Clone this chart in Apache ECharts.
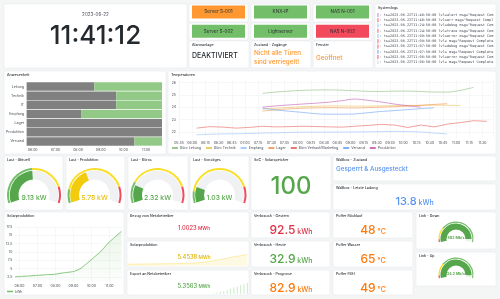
<!DOCTYPE html>
<html>
<head>
<meta charset="utf-8">
<title>Dashboard</title>
<script src="https://cdn.jsdelivr.net/npm/echarts@6/dist/echarts.min.js"></script>
<style>
  html, body { margin: 0; padding: 0; background: #f4f5f5; }
  #dash { width: 500px; height: 299px; }
</style>
</head>
<body>
<div id="dash"></div>
<script>
// ---- Werte ----
const clockDate = '2023-06-22';
const clockTime = '11:41:12';

const statusNames = ['Server S-001', 'KNX-IP', 'NAS N-001', 'Server S-002', 'Lightserver', 'NAS N-002'];
const statusStates = ['warn', 'ok', 'ok', 'ok', 'ok', 'err'];

const alarmTitles = ['Alarmanlage', 'Zustand - Zugänge', 'Fenster'];
const alarmTexts = ['DEAKTIVIERT', 'Nicht alle Türen\nsind verriegelt!', 'Geöffnet'];

const logTimes = ['11:40:50', '11:40:50', '11:24:50', '11:24:50', '11:09:50', '11:09:50', '11:07:50', '11:07:50', '11:06:50', '11:06:50'];
const logLevels = ['alert', 'err', 'debug', 'trace', 'error', '', 'debug', '', 'error', ''];
const logColors = ['#b877d9', '#f2495c', '#8ab8ff', '#f2495c', '#8ab8ff', '#f2495c', '#f2495c', '#5794f2', '#f2495c', '#ccccdc'];

// Anwesenheit (Minuten seit 0:00)
const presenceRows = ['Leitung', 'Technik', 'IT', 'Empfang', 'Lager', 'Produktion', 'Versand'];
const presenceStart = 344;
const presenceEnd = 702;
const presenceOnFrom = [523, 581, 581, 488, null, null, 629];

// Temperaturen
const tempNames = ['Büro Leitung', 'Büro Technik', 'Empfang', 'Lager', 'Büro Verkauf/Marketing', 'Versand', 'Produktion'];
const tempColors = ['#7eb26d', '#eab839', '#8ab8ff', '#ef843c', '#e24d42', '#5794f2', '#ba43a9'];
const tempTimes = [365, 380, 395, 410, 425, 440, 455, 470, 485, 500, 515, 530, 545, 560, 575, 590, 605, 620, 635, 650, 665, 680, 695];
const tempLeitung = [null, null, null, null, null, 25.12, 25.22, 25.30, 25.36, 25.39, 25.40, 25.38, 25.33, 25.28, 25.27, 25.30, 25.30, 25.27, 25.22, 25.22, 25.36, 25.60, null];
const tempTechnik = [null, null, null, null, null, 23.85, 23.92, 23.98, 24.03, 24.07, 24.10, 24.10, 24.08, 24.08, 24.10, 24.12, 24.14, 24.15, 24.16, 24.15, 24.12, null, null];
const tempEmpfang = [21.76, 21.80, 21.83, 21.85, 21.87, 21.90, 21.92, 21.95, 21.97, 21.97, 21.98, 21.98, 21.99, 22.00, 22.02, 22.03, 22.02, 21.98, 21.90, 21.83, null, null, null];
const tempLager = [null, null, null, null, null, 23.69, 23.78, 23.86, 23.91, 23.94, 23.96, 23.95, 23.93, 23.96, 24.00, 24.04, 24.08, 24.15, 24.22, 24.28, null, null, null];
const tempVerkauf = [22.30, 22.42, 22.38, 22.30, 22.36, 22.45, 22.40, 22.42, 22.45, 22.43, 22.40, 22.38, 22.45, 22.52, 22.60, 22.55, 22.35, 22.55, 22.40, 22.62, 22.75, 22.90, 22.85];
const tempVersand = [null, null, null, null, null, 23.91, 23.78, 23.67, 23.58, 23.47, 23.43, 23.43, 23.45, 23.55, 23.65, 23.72, 23.80, 23.88, 23.95, null, null, null, null];
const tempProduktion = [null, null, null, null, null, 24.00, 24.10, 24.18, 24.25, 24.32, 24.40, 24.52, 24.66, 24.55, 24.42, 24.25, 24.12, 24.00, null, null, null, null, null];
const tempSeries = [tempLeitung, tempTechnik, tempEmpfang, tempLager, tempVerkauf, tempVersand, tempProduktion];

// Solarproduktion kWh
const solarTimes = [345, 360, 375, 390, 405, 420, 435, 450, 465, 480, 495, 510, 525, 540, 555, 565, 580, 595, 610, 625, 640, 655, 670, 685, 700];
const solarValues = [2.5, 2.6, 2.7, 2.75, 2.85, 2.95, 3.05, 3.15, 3.2, 3.3, 3.55, 3.75, 3.9, 4.1, 4.6, 5.1, 6.2, 7.3, 8.5, 9.6, 11.0, 12.6, 13.8, 15.0, 16.2];

// Last
const loadNames = ['Last - Aktuell', 'Last - Produktion', 'Last - Büros', 'Last - Sonstiges'];
const loadValues = [9.13, 5.78, 2.32, 1.03];
const loadMax = [19, 14.4, 12, 6];
const loadGreenTo = [0.48, 0.14, 0.22, 0.12];

const socValue = 100;
const wallboxState = 'Gesperrt & Ausgesteckt';
const wallboxLast = 13.8;

const energyNames = ['Bezug vom Netzbetreiber', 'Solarproduktion', 'Export an Netzbetreiber'];
const energyValues = [1.0023, 5.4538, 5.3563];
const exportTimes = [600, 610, 620, 630, 640, 650, 660, 670, 680, 690, 700];
const exportSpark = [0.5, 1, 1.6, 2.2, 3, 3.8, 4.6, 5.4, 6.3, 7.2, 8];

const verbrauchNames = ['Verbrauch - Gestern', 'Verbrauch - Heute', 'Verbrauch - Prognose'];
const verbrauchValues = [92.5, 32.9, 82.9];

const pufferNames = ['Puffer Rücklauf', 'Puffer Wasser', 'Puffer FBH'];
const pufferValues = [48, 65, 49];

const linkNames = ['Link - Down', 'Link - Up'];
const linkValues = [502, 24.2];
const linkMax = [530, 25.5];

// ---- Darstellung ----
const FONT = 'Inter, "Noto Sans", sans-serif';
const TXT = '#24292e';
const SUB = '#464c54';
const GREEN = '#56a64b', YELLOW = '#e0b400', RED = '#e02f44', ORANGE = '#ff780a', BLUE = '#5794f2';
const GRIDC = '#eceef0';

function hm(m) {
    const h = Math.floor(m / 60), mm = m % 60;
    return (h < 10 ? '0' : '') + h + ':' + (mm < 10 ? '0' : '') + mm;
}

const graphics = [];
function panel(x, y, w, h, title) {
    graphics.push({ type: 'rect', silent: true, shape: { x: x, y: y, width: w, height: h, r: 1.5 },
        style: { fill: '#ffffff', stroke: '#e3e5e8', lineWidth: 0.5 } });
    if (title) txt(x + 3, y + 3.8, title, 3.6, TXT, { fontWeight: 500 });
}
function txt(x, y, text, size, color, extra) {
    graphics.push({ type: 'text', silent: true, x: x, y: y,
        style: Object.assign({ text: text, fontSize: size, fontFamily: FONT, fill: color, align: 'left', verticalAlign: 'middle' }, extra || {}) });
}
function statValue(cx, cy, value, unit, color, size, unitSize) {
    graphics.push({ type: 'text', silent: true, x: cx, y: cy,
        style: { text: '{v|' + value + '}{u|' + unit + '}', align: 'center', verticalAlign: 'middle', fill: color, fontFamily: FONT,
            rich: { v: { fontSize: size, fontWeight: 500, fill: color, fontFamily: FONT, verticalAlign: 'bottom' },
                    u: { fontSize: unitSize, fontWeight: 500, fill: color, fontFamily: FONT, verticalAlign: 'bottom', padding: [0, 0, size * 0.08, 0] } } } });
}

// Uhr
panel(4, 4, 183, 64, null);
txt(95.5, 15, clockDate, 4.6, SUB, { align: 'center' });
txt(95.5, 36, clockTime, 26, TXT, { align: 'center', fontWeight: 500 });

// Status
const stateColor = { ok: '#73bf69', warn: '#ff9830', err: '#f2495c' };
statusNames.forEach(function (name, i) {
    const col = i % 3, row = Math.floor(i / 3);
    const px = 189 + col * 62, py = row === 0 ? 4 : 23, ph = row === 0 ? 18 : 17;
    panel(px, py, 59, ph, null);
    graphics.push({ type: 'rect', silent: true, shape: { x: px + 3, y: py + (row === 0 ? 1.5 : 1.8), width: 53, height: 13 },
        style: { fill: stateColor[statusStates[i]] } });
    txt(px + 29.5, py + (row === 0 ? 8 : 8.3), name, 4.6, '#2b2f33', { align: 'center' });
});

alarmTitles.forEach(function (t, i) {
    const px = 189 + i * 62;
    panel(px, 41, 60, 27, t);
    if (i === 0) txt(px + 3, 55.5, alarmTexts[i], 7, TXT, { fontWeight: 500 });
    else txt(px + 3, 57.8, alarmTexts[i], 6.3, '#ff9830', { fontWeight: 500, lineHeight: 8.5 });
});

// Systemlogs
panel(375, 4, 121, 64, 'Systemlogs');
logTimes.forEach(function (t, i) {
    const y = 15 + i * 5.25;
    graphics.push({ type: 'rect', silent: true, shape: { x: 377.5, y: y - 2, width: 0.9, height: 4 }, style: { fill: logColors[i] } });
    txt(379.5, y, '› ts=2023-06-22T' + t + ':00 lvl=' + logLevels[i] + ' msg="Request Completed" logger=context', 3.5, SUB,
        { fontFamily: '"DejaVu Sans Mono", monospace', width: 115, overflow: 'truncate', ellipsis: '' });
});

panel(4, 71, 162, 83, 'Anwesenheit');
panel(168, 71, 328, 83, 'Temperaturen');

// Gauges Last
const gaugeCenters = [34, 94.5, 157.5, 219.5];
const gaugePanelX = [4, 66, 128, 190];
loadNames.forEach(function (n, i) {
    panel(gaugePanelX[i], 156, i === 2 ? 60 : 59, 54, n);
});
panel(251, 156, 80, 54, 'SoC - Solarspeicher');
txt(291, 187, String(socValue), 24, GREEN, { align: 'center', fontWeight: 500 });
panel(333, 156, 163, 25, 'Wallbox - Zustand');
txt(336, 169.5, wallboxState, 6.3, BLUE, { fontWeight: 500 });
panel(333, 184, 163, 26, 'Wallbox - Letzte Ladung');
statValue(414.5, 202, wallboxLast.toFixed(1), ' kWh', BLUE, 11, 7);

panel(4, 212, 120, 83, 'Solarproduktion');

const rowY = [212, 241, 270], rowH = [26, 26, 25];
const energyColors = [RED, YELLOW, GREEN];
energyNames.forEach(function (n, i) {
    panel(127, rowY[i], 122, rowH[i], n);
    statValue(194, rowY[i] + 16.5, energyValues[i].toFixed(4), ' MWh', energyColors[i], 5.8, 4.8);
});
const verbrauchColors = [RED, GREEN, ORANGE];
verbrauchNames.forEach(function (n, i) {
    panel(251, rowY[i], 79, rowH[i], n);
    statValue(291, rowY[i] + 18, verbrauchValues[i].toFixed(1), ' kWh', verbrauchColors[i], 12, 7);
});
pufferNames.forEach(function (n, i) {
    panel(333, rowY[i], 80, rowH[i], n);
    statValue(373, rowY[i] + 18, String(pufferValues[i]), ' °C', ORANGE, 12, 7);
});
panel(416, 212, 80, 37, linkNames[0]);
panel(416, 252, 80, 34, linkNames[1]);

// ---- Serien ----
const presenceData = [];
presenceRows.forEach(function (r, i) {
    const on = presenceOnFrom[i];
    if (on === null) presenceData.push([i, presenceStart, presenceEnd, 0]);
    else {
        presenceData.push([i, presenceStart, on, 0]);
        presenceData.push([i, on, presenceEnd, 1]);
    }
});

const series = [];
series.push({
    type: 'custom', xAxisIndex: 0, yAxisIndex: 0, silent: true,
    encode: { x: [1, 2], y: 0 },
    renderItem: function (params, api) {
        const row = api.value(0);
        const p0 = api.coord([api.value(1), row]);
        const p1 = api.coord([api.value(2), row]);
        const h = api.size([0, 1])[1] * 0.93;
        return { type: 'rect', shape: { x: p0[0], y: p0[1] - h / 2, width: p1[0] - p0[0], height: h },
            style: { fill: api.value(3) ? '#93c987' : '#808080' } };
    },
    data: presenceData
});

tempSeries.forEach(function (vals, k) {
    series.push({
        name: tempNames[k], type: 'line', xAxisIndex: 1, yAxisIndex: 1, showSymbol: false, smooth: k === 4 ? false : 0.3,
        lineStyle: { width: 0.7, color: tempColors[k], opacity: 0.75 }, itemStyle: { color: tempColors[k] },
        data: tempTimes.map(function (t, i) { return vals[i] === null ? null : [t, vals[i]]; }).filter(Boolean)
    });
});

series.push({
    name: 'kWh', type: 'line', xAxisIndex: 2, yAxisIndex: 2, showSymbol: false, smooth: 0.2,
    lineStyle: { width: 0.9, color: '#73bf69' }, itemStyle: { color: '#73bf69' },
    areaStyle: { color: new echarts.graphic.LinearGradient(0, 0, 0, 1, [
        { offset: 0, color: 'rgba(115,191,105,0.22)' }, { offset: 1, color: 'rgba(115,191,105,0.03)' }]) },
    data: solarTimes.map(function (t, i) { return [t, solarValues[i]]; })
});
series.push({
    type: 'line', xAxisIndex: 3, yAxisIndex: 3, showSymbol: false, silent: true,
    lineStyle: { width: 0.6, color: 'rgba(242,204,12,0.5)' },
    areaStyle: { color: 'rgba(242,204,12,0.16)' },
    data: solarTimes.map(function (t, i) { return [t, solarValues[i]]; })
});
series.push({
    type: 'bar', xAxisIndex: 4, yAxisIndex: 4, silent: true, barWidth: 0.6,
    itemStyle: { color: 'rgba(115,191,105,0.35)' },
    data: exportTimes.map(function (t, i) { return [t, exportSpark[i]]; })
});

const gaugeBase = {
    type: 'gauge', silent: true, pointer: { show: false }, axisTick: { show: false },
    splitLine: { show: false }, axisLabel: { show: false }, title: { show: false }
};
loadValues.forEach(function (v, i) {
    const c = [gaugeCenters[i], 195];
    const valColor = i === 1 ? '#f2cc0c' : GREEN;
    series.push(Object.assign({}, gaugeBase, {
        center: c, radius: 27, startAngle: 198, endAngle: -18, min: 0, max: 1,
        axisLine: { lineStyle: { width: 2, color: [[loadGreenTo[i], '#73bf69'], [0.83, '#fade2a'], [1, '#f2495c']] } },
        detail: { show: false }, data: [{ value: 0 }]
    }));
    series.push(Object.assign({}, gaugeBase, {
        center: c, radius: 24.3, startAngle: 198, endAngle: -18, min: 0, max: loadMax[i],
        axisLine: { lineStyle: { width: 8.8, color: [[1, '#f0f1f2']] } },
        progress: { show: true, width: 8.8, itemStyle: { color: valColor } },
        detail: { offsetCenter: [0, 2.7], fontSize: 6.8, fontWeight: 500, fontFamily: FONT, color: i === 1 ? '#e5c00f' : GREEN,
            formatter: function (x) { return x.toFixed(2) + ' kW'; } },
        data: [{ value: v }]
    }));
});
const linkCenters = [[456, 239], [456, 275]];
linkValues.forEach(function (v, i) {
    series.push(Object.assign({}, gaugeBase, {
        center: linkCenters[i], radius: 17.5, startAngle: 191, endAngle: -11, min: 0, max: 1,
        axisLine: { lineStyle: { width: 1.2, color: [[0.05, '#f2495c'], [0.25, '#fade2a'], [1, '#73bf69']] } },
        detail: { show: false }, data: [{ value: 0 }]
    }));
    series.push(Object.assign({}, gaugeBase, {
        center: linkCenters[i], radius: 15.5, startAngle: 191, endAngle: -11, min: 0, max: linkMax[i],
        axisLine: { lineStyle: { width: 6, color: [[1, '#eef0f1']] } },
        progress: { show: true, width: 6, itemStyle: { color: GREEN } },
        detail: { offsetCenter: [0, -1], fontSize: 3.6, fontFamily: FONT, color: GREEN,
            formatter: function (x) { return x + ' Mb/s'; } },
        data: [{ value: v }]
    }));
});

const lab = { fontSize: 3.5, color: SUB, fontFamily: FONT };
const option = {
    animation: false,
    backgroundColor: '#f4f5f5',
    textStyle: { fontFamily: FONT },
    graphic: graphics,
    grid: [
        { left: 27, top: 82, width: 135, height: 64 },
        { left: 179, top: 80, width: 314, height: 58 },
        { left: 15, top: 227, width: 107, height: 54 },
        { left: 128, top: 254, width: 120, height: 12 },
        { left: 128, top: 282, width: 120, height: 12 }
    ],
    xAxis: [
        { type: 'value', gridIndex: 0, min: 345, max: presenceEnd, interval: 15,
          axisLabel: Object.assign({ margin: 2, showMaxLabel: false, formatter: function (v) { return v % 60 === 0 ? hm(v) : ''; } }, lab),
          axisLine: { show: false }, axisTick: { show: false }, splitLine: { show: false } },
        { type: 'value', gridIndex: 1, min: 345, max: 702, interval: 15,
          axisLabel: Object.assign({ margin: 2.5, showMaxLabel: false, formatter: function (v) { return hm(v); } }, lab),
          axisLine: { show: false }, axisTick: { show: false }, splitLine: { lineStyle: { color: GRIDC, width: 0.5 } } },
        { type: 'value', gridIndex: 2, min: 345, max: 702, interval: 15,
          axisLabel: Object.assign({ margin: 2.5, showMaxLabel: false, formatter: function (v) { return v % 60 === 0 ? hm(v) : ''; } }, lab),
          axisLine: { show: false }, axisTick: { show: false },
          splitLine: { lineStyle: { color: ['rgba(0,0,0,0)', GRIDC, 'rgba(0,0,0,0)', 'rgba(0,0,0,0)'], width: 0.5 } } },
        { type: 'value', gridIndex: 3, min: 345, max: 702, show: false },
        { type: 'value', gridIndex: 4, min: 345, max: 702, show: false }
    ],
    yAxis: [
        { type: 'category', gridIndex: 0, data: presenceRows, inverse: true,
          axisLabel: Object.assign({ margin: 3 }, lab), axisLine: { show: false }, axisTick: { show: false }, splitLine: { show: false } },
        { type: 'value', gridIndex: 1, min: 21.5, max: 26.2, interval: 0.5,
          axisLabel: Object.assign({ margin: 3, formatter: function (v) { return Number.isInteger(v) ? String(v) : ''; } }, lab),
          axisLine: { show: false }, axisTick: { show: false },
          splitLine: { lineStyle: { color: ['rgba(0,0,0,0)', GRIDC], width: 0.5 } } },
        { type: 'value', gridIndex: 2, min: 1.25, max: 17.5, interval: 1.25,
          axisLabel: Object.assign({ margin: 2.5, formatter: function (v) { return (v % 2.5 === 0) ? String(v) : ''; } }, lab),
          axisLine: { show: false }, axisTick: { show: false },
          splitLine: { lineStyle: { color: ['rgba(0,0,0,0)', GRIDC], width: 0.5 } } },
        { type: 'value', gridIndex: 3, min: 0, max: 17, show: false },
        { type: 'value', gridIndex: 4, min: 0, max: 8.5, show: false }
    ],
    legend: [
        { data: tempNames, left: 172, top: 146, padding: 0, itemWidth: 6, itemHeight: 1.5, itemGap: 5, icon: 'rect',
          selectedMode: false, textStyle: { fontSize: 3.5, color: SUB, padding: [0, 0, 0, -3] } },
        { data: ['kWh'], left: 7, top: 289.5, padding: 0, itemWidth: 6, itemHeight: 1.5, icon: 'rect',
          selectedMode: false, textStyle: { fontSize: 3.5, color: SUB, padding: [0, 0, 0, -3] } }
    ],
    series: series
};

const dash = echarts.init(document.getElementById('dash'));
dash.setOption(option);
</script>
</body>
</html>
